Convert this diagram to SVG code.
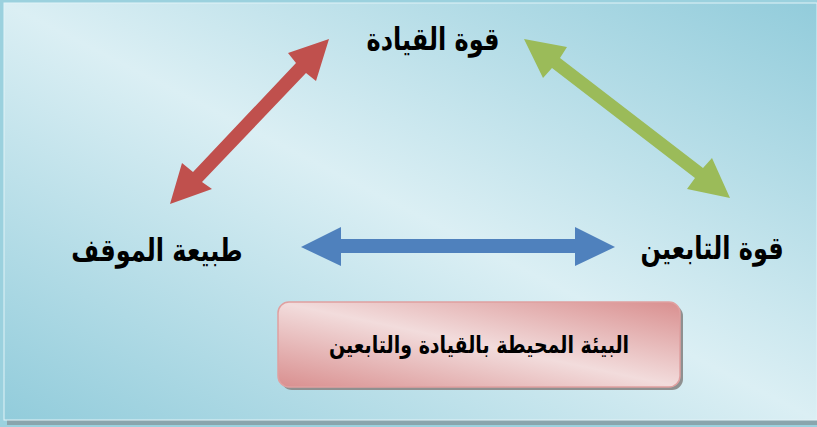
<svg xmlns="http://www.w3.org/2000/svg" width="817" height="427" viewBox="0 0 817 427">
  <style>
    .lbl { font-family: "DejaVu Sans", "Noto Sans", sans-serif; font-weight: bold; fill: #000; text-anchor: middle; }
    .big { font-size: 24px; }
    .small { font-size: 19px; }
  </style>
  <defs>
    <linearGradient id="bg" x1="0" y1="1" x2="1" y2="0">
      <stop offset="0" stop-color="#92ccdb"/>
      <stop offset="0.5" stop-color="#dbeff4"/>
      <stop offset="1" stop-color="#92ccdb"/>
    </linearGradient>
    <linearGradient id="pink" x1="0" y1="1" x2="1" y2="0">
      <stop offset="0" stop-color="#d98f8f"/>
      <stop offset="0.5" stop-color="#f2dcdc"/>
      <stop offset="1" stop-color="#d98f8f"/>
    </linearGradient>
  </defs>

  <!-- outer frame -->
  <rect x="0" y="0" width="817" height="427" fill="#9bd1de"/>
  <rect x="7" y="420" width="810" height="5" fill="#8aa5ad"/>
  <rect id="panel" x="4" y="3" width="813" height="417" fill="url(#bg)" stroke="#e2f3f7" stroke-width="1"/>

  <g id="connectors">
    <polygon id="red-arrow" fill="#c0504d" points="329,39 316,81 306,73 202,182 212,189 170,204 182,163 193,172 296,63 288,53"/>
    <polygon id="green-arrow" fill="#9bbb59" points="524,39 567,47 560,58 703,168 712,158 730,198 687,189 695,178 552,68 543,78"/>
    <polygon id="blue-arrow" fill="#4f81bd" points="301,247 341,227 341,239 575,239 575,227 615,247 575,266 575,253 341,253 341,266"/>
  </g>

  <g id="node-leadership">
    <text class="lbl big" transform="translate(433,50) scale(1,1.3)">قوة القيادة</text>
  </g>
  <g id="node-situation">
    <text class="lbl big" transform="translate(157,261) scale(1,1.3)">طبيعة الموقف</text>
  </g>
  <g id="node-followers">
    <text class="lbl big" transform="translate(712,259) scale(1,1.3)">قوة التابعين</text>
  </g>
  <g id="node-environment">
    <rect x="281" y="305" width="402" height="85" rx="11" fill="#8f9090"/>
    <rect x="278" y="302" width="402" height="85" rx="11" fill="url(#pink)" stroke="#e0a0a0" stroke-width="1.5"/>
    <text class="lbl small" transform="translate(479,353) scale(1,1.25)">البيئة المحيطة بالقيادة والتابعين</text>
  </g>
</svg>
